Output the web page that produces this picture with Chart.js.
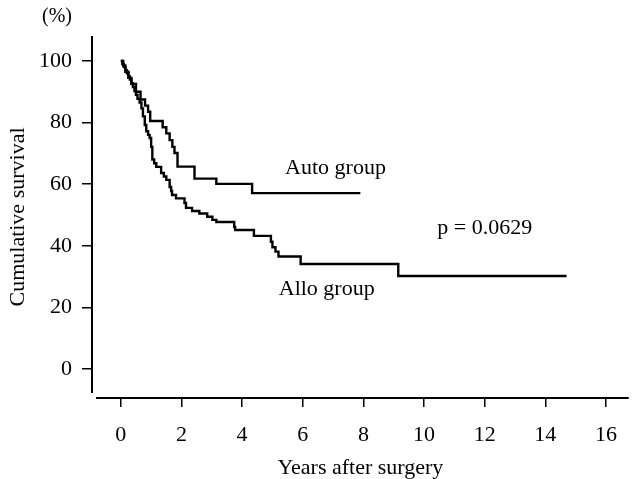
<!DOCTYPE html>
<html>
<head>
<meta charset="utf-8">
<script src="https://cdn.jsdelivr.net/npm/chart.js@4/dist/chart.umd.min.js"></script>
<style>
html,body{margin:0;padding:0;background:#fff;}
#wrap{width:632px;height:479px;position:relative;}
</style>
</head>
<body>
<div id="wrap"><canvas id="c" width="632" height="479"></canvas></div>
<script>
// Kaplan-Meier estimates
const autoYears    = [0, 0.08, 0.15, 0.25, 0.35, 0.5, 0.65, 0.8, 0.9, 0.97, 1.38, 1.5, 1.61, 1.7, 1.77, 1.87, 2.43, 3.15, 4.33, 7.9];
const autoSurvival = [100, 98.5, 96.5, 94.5, 92.5, 90, 87.5, 85.5, 83.5, 80.5, 78.5, 76.5, 74.3, 72.1, 70.1, 65.7, 61.8, 60.1, 57.1, 57.1];
const alloYears    = [0, 0.05, 0.1, 0.15, 0.2, 0.25, 0.3, 0.35, 0.4, 0.45, 0.5, 0.55, 0.62, 0.68, 0.73, 0.79, 0.84, 0.9, 0.95, 1.0, 1.04, 1.1, 1.17, 1.33, 1.42, 1.5, 1.61, 1.66, 1.69, 1.82, 2.1, 2.15, 2.35, 2.59, 2.85, 3.02, 3.15, 3.74, 3.77, 4.39, 4.95, 5.0, 5.1, 5.2, 5.93, 9.15, 14.7];
const alloSurvival = [100, 99, 98, 97, 96, 95, 94, 92.8, 91.5, 90.2, 89, 87.7, 86.5, 84.6, 82, 79.2, 77.2, 76, 75, 72.1, 68, 66.8, 65.6, 63.6, 62.5, 61.4, 59.1, 57.8, 56.5, 55.4, 53.9, 52.3, 51.3, 50.5, 49.4, 48.4, 47.7, 46.1, 45.1, 43.2, 41.3, 39.5, 38.1, 36.5, 34.1, 30.2, 30.2];
const xTicks = [0, 2, 4, 6, 8, 10, 12, 14, 16];
const yTicks = [0, 20, 40, 60, 80, 100];
const seriesNames = ["Auto group", "Allo group"];
const pLabel = "p = 0.0629";
const xTitle = "Years after surgery";
const yTitle = "Cumulative survival";
const unitLabel = "(%)";

const FONT = "'Liberation Serif', 'DejaVu Serif', serif";
const FS = 22;

function toPoints(xs, ys){ return xs.map((x,i)=>({x:x, y:ys[i]})); }

// text annotations placed in data coordinates
const notes = [
  {text: seriesNames[0], x: 7.08, y: 65.3},
  {text: seriesNames[1], x: 6.79, y: 26.0},
  {text: pLabel,         x: 12.0, y: 45.8}
];

const annot = {
  id: 'annot',
  afterDraw(chart){
    const ctx = chart.ctx, a = chart.chartArea;
    const xs = chart.scales.x, ys = chart.scales.y;
    ctx.save();
    // axes lines (detached)
    ctx.strokeStyle = '#000';
    ctx.lineWidth = 2;
    ctx.beginPath();
    ctx.moveTo(a.left, a.top); ctx.lineTo(a.left, a.bottom - 5);
    ctx.moveTo(a.left + 4, a.bottom); ctx.lineTo(a.right, a.bottom);
    ctx.stroke();
    ctx.fillStyle = '#000';
    ctx.font = FS + "px " + FONT;
    ctx.textAlign = 'center';
    ctx.textBaseline = 'middle';
    notes.forEach(n => ctx.fillText(n.text, xs.getPixelForValue(n.x), ys.getPixelForValue(n.y)));
    ctx.font = "20px " + FONT;
    ctx.fillText(unitLabel, a.left - 35, a.top - 19);
    ctx.restore();
  }
};

new Chart(document.getElementById('c'), {
  type: 'line',
  data: {
    datasets: [
      {label: seriesNames[0], data: toPoints(autoYears, autoSurvival), stepped: true, borderColor: '#000', borderWidth: 2.4, pointRadius: 0, fill: false},
      {label: seriesNames[1], data: toPoints(alloYears, alloSurvival), stepped: true, borderColor: '#000', borderWidth: 2.4, pointRadius: 0, fill: false}
    ]
  },
  options: {
    responsive: false,
    animation: false,
    devicePixelRatio: 1,
    layout: {padding: {top: 36, right: 0, left: 0, bottom: 0}},
    plugins: {legend: {display: false}, tooltip: {enabled: false}},
    scales: {
      x: {
        type: 'linear', min: -0.95, max: 16.75,
        afterBuildTicks: s => { s.ticks = xTicks.map(v => ({value: v})); },
        afterFit: s => { s.height = 81; },
        border: {display: false},
        grid: {drawOnChartArea: false, drawTicks: true, tickLength: 9, color: '#000', lineWidth: 1.5},
        ticks: {color: '#000', font: {family: FONT, size: FS}, padding: 15, maxRotation: 0},
        title: {display: true, text: xTitle, color: '#000', font: {family: FONT, size: FS, lineHeight: 1.0}, padding: {top: 0, bottom: 0}}
      },
      y: {
        type: 'linear', min: -9.42, max: 108.1,
        afterBuildTicks: s => { s.ticks = yTicks.map(v => ({value: v})); },
        afterFit: s => { s.width = 92; },
        border: {display: false},
        grid: {drawOnChartArea: false, drawTicks: true, tickLength: 10, color: '#000', lineWidth: 1.5},
        ticks: {color: '#000', font: {family: FONT, size: FS}, padding: 10},
        title: {display: true, text: yTitle, color: '#000', font: {family: FONT, size: FS}, padding: {top: 5, bottom: 0}}
      }
    }
  },
  plugins: [annot]
});
</script>
</body>
</html>
